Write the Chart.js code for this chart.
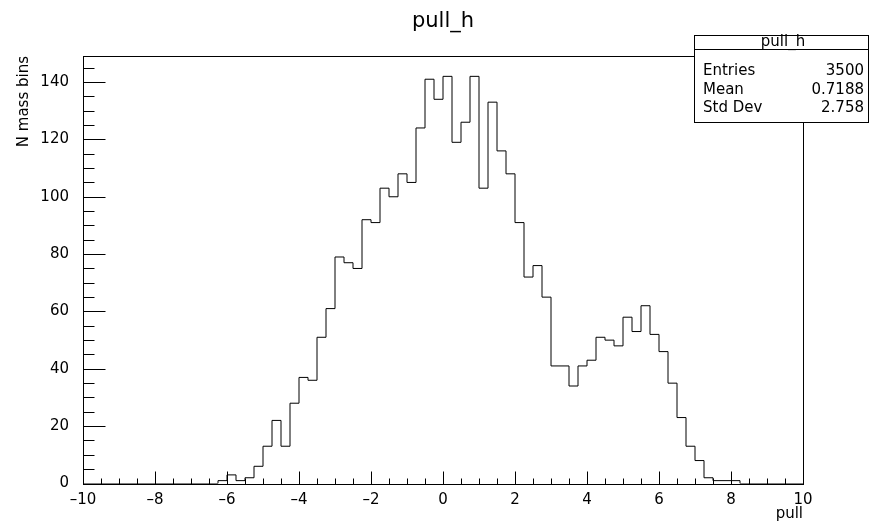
<!DOCTYPE html>
<html>
<head>
<meta charset="utf-8">
<title>pull_h</title>
<script src="https://cdn.jsdelivr.net/npm/chart.js@4.4.1/dist/chart.umd.min.js"></script>
<style>
  body { margin: 0; background: #fff; }
  #wrap { width: 869px; height: 522px; position: relative; }
</style>
</head>
<body>
<div id="wrap"><canvas id="pull-chart"></canvas></div>
<script>
// histogram: 80 bins of 0.25 from -10 to 10
const histName = "pull_h";
const xTitle = "pull";
const yTitle = "N mass bins";
const binStart = -10;
const binWidth = 0.25;
const counts = [
  0, 0, 0, 0, 0, 0, 0, 0, 0, 0, 0, 0, 0, 0, 0,
  1, 3, 1, 2, 6, 13, 22, 13, 28, 37, 36, 51, 61,
  79, 77, 75, 92, 91, 103, 100, 108, 105, 124, 141, 134, 142, 119, 126, 142, 103, 133, 116, 108, 91, 72, 76,
  65, 41, 41, 34, 41, 43, 51, 50, 48, 58, 53, 62, 52, 46, 35, 23, 13, 8, 2, 1, 1, 1,
  0, 0, 0, 0, 0, 0, 0
];
const xTicks = [-10, -8, -6, -4, -2, 0, 2, 4, 6, 8, 10];
const yTicks = [0, 20, 40, 60, 80, 100, 120, 140];
const yMax = 149.1;
const statLabels = ["Entries", "Mean", "Std Dev"];
const statValues = ["3500", "0.7188", "2.758"];

const FONT = "DejaVu Sans";

// step points at the left edge of each bin, plus the closing edge
const points = counts.map((c, i) => ({ x: binStart + i * binWidth, y: c }));
points.push({ x: binStart + counts.length * binWidth, y: counts[counts.length - 1] });

// ROOT style frame, inside ticks, titles and the stats box
const rootDecor = {
  id: "rootDecor",
  beforeDatasetsDraw(chart) {
    const { ctx, chartArea: a, scales } = chart;
    const L = Math.round(a.left) + 0.5, R = Math.round(a.right) + 0.5;
    const T = Math.round(a.top) + 0.5, B = Math.round(a.bottom) + 0.5;
    ctx.save();
    ctx.strokeStyle = "#000";
    ctx.lineWidth = 1;
    ctx.strokeRect(L, T, R - L, B - T);

    ctx.beginPath();
    // x ticks: major every 2, minor every 0.5
    for (let v = -10; v <= 10.001; v += 0.5) {
      const px = Math.round(scales.x.getPixelForValue(v)) + 0.5;
      const len = Math.abs(v % 2) < 1e-6 ? 13 : 6;
      ctx.moveTo(px, B);
      ctx.lineTo(px, B - len);
    }
    // y ticks: major every 20, minor every 5
    for (let v = 0; v <= yMax; v += 5) {
      const py = Math.round(scales.y.getPixelForValue(v)) + 0.5;
      const len = v % 20 === 0 ? 22 : 11;
      ctx.moveTo(L, py);
      ctx.lineTo(L + len, py);
    }
    ctx.stroke();
    ctx.restore();
  },
  afterDraw(chart) {
    const { ctx, chartArea: a } = chart;
    ctx.save();
    ctx.fillStyle = "#000";

    ctx.font = `21px "${FONT}"`;
    ctx.textAlign = "center";
    ctx.textBaseline = "alphabetic";
    ctx.fillText(histName, 443, 27);

    ctx.font = `15px "${FONT}"`;
    ctx.textAlign = "right";
    ctx.fillText(xTitle, a.right, 518);

    ctx.save();
    ctx.translate(28, a.top);
    ctx.rotate(-Math.PI / 2);
    ctx.textAlign = "right";
    ctx.fillText(yTitle, 0, 0);
    ctx.restore();

    // stats box
    const bx = 694.5, by = 35.5, bw = 174, bh = 87;
    ctx.fillStyle = "#fff";
    ctx.fillRect(bx, by, bw, bh);
    ctx.strokeStyle = "#000";
    ctx.lineWidth = 1;
    ctx.strokeRect(bx, by, bw, bh);
    ctx.beginPath();
    ctx.moveTo(bx, 49.5);
    ctx.lineTo(bx + bw, 49.5);
    ctx.stroke();

    ctx.fillStyle = "#000";
    ctx.font = `15px "${FONT}"`;
    ctx.textAlign = "center";
    ctx.fillText(histName, 783, 46);
    const rows = [75, 93.5, 112];
    statLabels.forEach((lab, i) => {
      ctx.textAlign = "left";
      ctx.fillText(lab, 703, rows[i]);
      ctx.textAlign = "right";
      ctx.fillText(statValues[i], 864, rows[i]);
    });
    ctx.restore();
  }
};

const ctx = document.getElementById("pull-chart").getContext("2d");
const chart = new Chart(ctx, {
  type: "line",
  data: {
    datasets: [{
      label: histName,
      data: points,
      stepped: true,
      borderColor: "#000",
      borderWidth: 1,
      pointRadius: 0,
      fill: false,
    }]
  },
  options: {
    responsive: true,
    maintainAspectRatio: false,
    animation: false,
    layout: { padding: { top: 56, right: 66, left: 0, bottom: 0 } },
    plugins: {
      legend: { display: false },
      tooltip: { enabled: false },
      title: { display: false }
    },
    scales: {
      x: {
        type: "linear",
        min: -10,
        max: 10,
        grid: { display: false },
        border: { display: false },
        afterFit: (s) => { s.height = 38.5; },
        afterBuildTicks: (s) => { s.ticks = xTicks.map(v => ({ value: v })); },
        ticks: {
          padding: 0,
          color: "#000",
          font: { family: FONT, size: 15 },
          maxRotation: 0,
          callback: (v) => String(v).replace("-", "\u2013")
        }
      },
      y: {
        type: "linear",
        min: 0,
        max: yMax,
        grid: { display: false },
        border: { display: false },
        afterFit: (s) => { s.width = 83; },
        afterBuildTicks: (s) => { s.ticks = yTicks.map(v => ({ value: v })); },
        ticks: {
          padding: 6,
          color: "#000",
          font: { family: FONT, size: 15 }
        }
      }
    }
  },
  plugins: [rootDecor]
});
</script>
</body>
</html>
